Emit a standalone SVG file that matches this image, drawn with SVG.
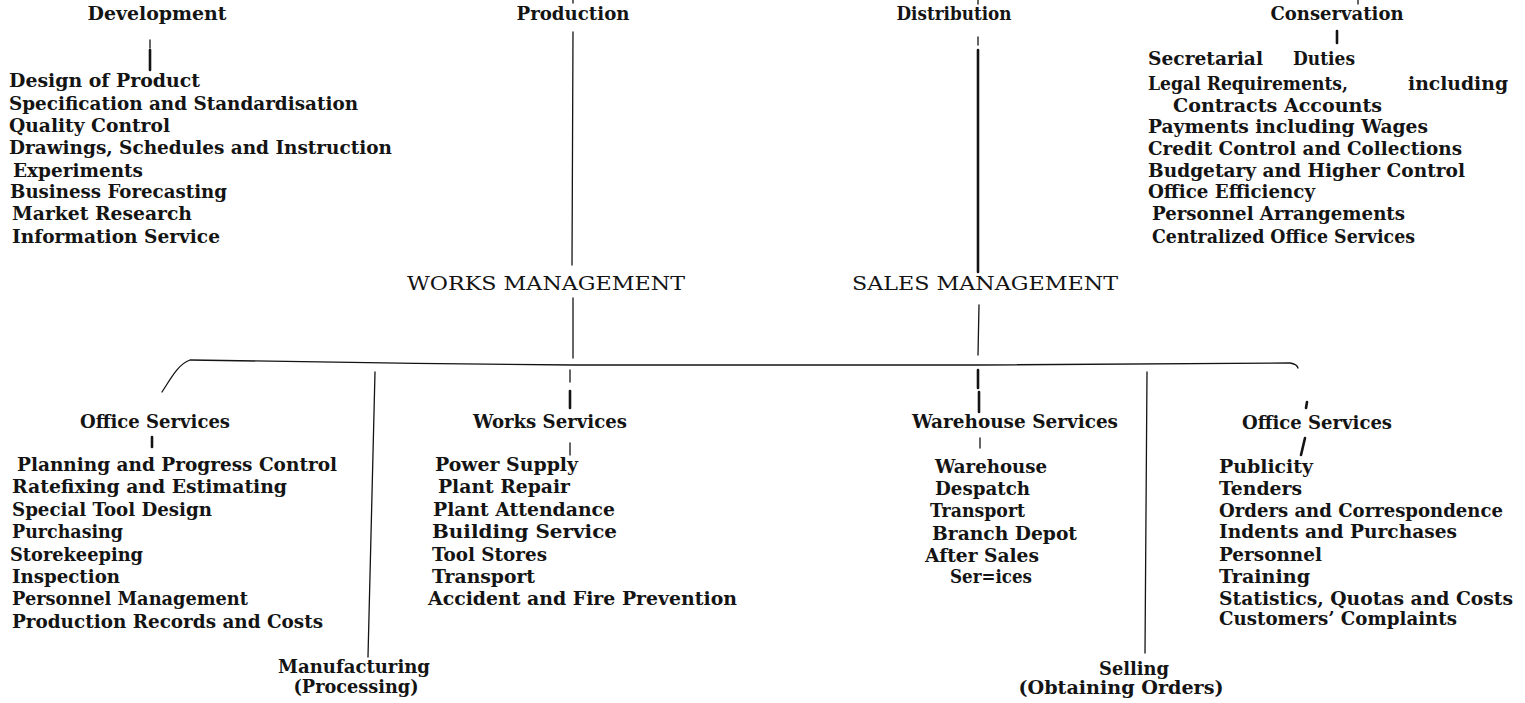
<svg xmlns="http://www.w3.org/2000/svg" width="1525" height="703" viewBox="0 0 1525 703">
<style>
.t{font-family:"DejaVu Serif","Liberation Serif",serif;font-size:18px;font-weight:bold;fill:#141414}
.c{text-anchor:middle}
.m{font-family:"DejaVu Serif","Liberation Serif",serif;font-size:18px;font-weight:normal;fill:#141414;text-anchor:middle}
.ln{stroke:#141414;stroke-width:1.3;fill:none;stroke-linecap:round}
.thick{stroke-width:2.6}
</style>
<rect width="1525" height="703" fill="#ffffff"/>
<g id="connectors">
<line class="ln" x1="573" y1="0" x2="573" y2="3"/>
<line class="ln" x1="978" y1="0" x2="978" y2="4"/>
<line class="ln" x1="1358" y1="0" x2="1358" y2="4"/>
<line class="ln" x1="150" y1="40" x2="150" y2="48"/>
<line class="ln thick" x1="150" y1="50" x2="150" y2="70"/>
<line class="ln" x1="573" y1="32" x2="572" y2="265"/>
<line class="ln" x1="978" y1="37" x2="978" y2="45"/>
<line class="ln thick" x1="978" y1="50" x2="978" y2="272"/>
<line class="ln thick" x1="1337" y1="31" x2="1337" y2="43"/>
<line class="ln" x1="573" y1="298" x2="573" y2="358"/>
<line class="ln" x1="979" y1="305" x2="978" y2="355"/>
<path class="ln" d="M162,392 C170,380 178,364 190,360 C300,362 450,364 573,365 L978,365 C1100,365 1200,364 1290,363 Q1297,364 1298,368"/>
<line class="ln" x1="375" y1="372" x2="368" y2="657"/>
<line class="ln" x1="1147" y1="372" x2="1145" y2="653"/>
<line class="ln" x1="570" y1="370" x2="570" y2="382"/>
<line class="ln thick" x1="570" y1="391" x2="570" y2="408"/>
<line class="ln" x1="570" y1="443" x2="570" y2="455"/>
<line class="ln thick" x1="978" y1="370" x2="978" y2="388"/>
<line class="ln thick" x1="979" y1="392" x2="979" y2="412"/>
<line class="ln" x1="980" y1="438" x2="980" y2="448"/>
<line class="ln thick" x1="152" y1="437" x2="152" y2="447"/>
<line class="ln thick" x1="1307" y1="402" x2="1306" y2="408"/>
<line class="ln thick" x1="1305" y1="438" x2="1301" y2="455"/>
</g>
<g id="development">
<text class="t c" x="157" y="20" textLength="139" lengthAdjust="spacingAndGlyphs">Development</text>
<text class="t" x="9" y="87" textLength="191" lengthAdjust="spacingAndGlyphs">Design of Product</text>
<text class="t" x="9" y="110" textLength="349" lengthAdjust="spacingAndGlyphs">Specification and Standardisation</text>
<text class="t" x="9" y="132" textLength="161" lengthAdjust="spacingAndGlyphs">Quality Control</text>
<text class="t" x="9" y="154" textLength="383" lengthAdjust="spacingAndGlyphs">Drawings, Schedules and Instruction</text>
<text class="t" x="13" y="177" textLength="130" lengthAdjust="spacingAndGlyphs">Experiments</text>
<text class="t" x="10" y="198" textLength="217" lengthAdjust="spacingAndGlyphs">Business Forecasting</text>
<text class="t" x="12" y="220" textLength="180" lengthAdjust="spacingAndGlyphs">Market Research</text>
<text class="t" x="12" y="243" textLength="208" lengthAdjust="spacingAndGlyphs">Information Service</text>
</g>
<g id="production">
<text class="t c" x="573" y="20" textLength="113" lengthAdjust="spacingAndGlyphs">Production</text>
</g>
<g id="distribution">
<text class="t c" x="954" y="20" textLength="115" lengthAdjust="spacingAndGlyphs">Distribution</text>
</g>
<g id="conservation">
<text class="t c" x="1337" y="20" textLength="133" lengthAdjust="spacingAndGlyphs">Conservation</text>
<text class="t" x="1148" y="65" textLength="115" lengthAdjust="spacingAndGlyphs">Secretarial</text>
<text class="t" x="1293" y="65" textLength="62" lengthAdjust="spacingAndGlyphs">Duties</text>
<text class="t" x="1148" y="90" textLength="200" lengthAdjust="spacingAndGlyphs">Legal Requirements,</text>
<text class="t" x="1408" y="90" textLength="100" lengthAdjust="spacingAndGlyphs">including</text>
<text class="t" x="1173" y="112" textLength="209" lengthAdjust="spacingAndGlyphs">Contracts  Accounts</text>
<text class="t" x="1148" y="133" textLength="280" lengthAdjust="spacingAndGlyphs">Payments including Wages</text>
<text class="t" x="1148" y="155" textLength="314" lengthAdjust="spacingAndGlyphs">Credit Control and Collections</text>
<text class="t" x="1148" y="177" textLength="317" lengthAdjust="spacingAndGlyphs">Budgetary and Higher Control</text>
<text class="t" x="1148" y="198" textLength="167" lengthAdjust="spacingAndGlyphs">Office Efficiency</text>
<text class="t" x="1152" y="220" textLength="253" lengthAdjust="spacingAndGlyphs">Personnel Arrangements</text>
<text class="t" x="1152" y="243" textLength="263" lengthAdjust="spacingAndGlyphs">Centralized Office Services</text>
</g>
<g id="works-management">
<text class="m" x="546" y="290" textLength="278" lengthAdjust="spacingAndGlyphs">WORKS MANAGEMENT</text>
</g>
<g id="sales-management">
<text class="m" x="985" y="290" textLength="266" lengthAdjust="spacingAndGlyphs">SALES MANAGEMENT</text>
</g>
<g id="office-services-works">
<text class="t c" x="155" y="428" textLength="150" lengthAdjust="spacingAndGlyphs">Office Services</text>
<text class="t" x="17" y="471" textLength="320" lengthAdjust="spacingAndGlyphs">Planning and Progress Control</text>
<text class="t" x="12" y="493" textLength="275" lengthAdjust="spacingAndGlyphs">Ratefixing and Estimating</text>
<text class="t" x="12" y="516" textLength="200" lengthAdjust="spacingAndGlyphs">Special Tool Design</text>
<text class="t" x="12" y="538" textLength="111" lengthAdjust="spacingAndGlyphs">Purchasing</text>
<text class="t" x="10" y="561" textLength="133" lengthAdjust="spacingAndGlyphs">Storekeeping</text>
<text class="t" x="12" y="583" textLength="108" lengthAdjust="spacingAndGlyphs">Inspection</text>
<text class="t" x="12" y="605" textLength="236" lengthAdjust="spacingAndGlyphs">Personnel Management</text>
<text class="t" x="12" y="628" textLength="311" lengthAdjust="spacingAndGlyphs">Production Records and Costs</text>
</g>
<g id="manufacturing">
<text class="t c" x="354" y="673" textLength="152" lengthAdjust="spacingAndGlyphs">Manufacturing</text>
<text class="t c" x="356" y="693" textLength="125" lengthAdjust="spacingAndGlyphs">(Processing)</text>
</g>
<g id="works-services">
<text class="t c" x="550" y="428" textLength="154" lengthAdjust="spacingAndGlyphs">Works Services</text>
<text class="t" x="435" y="471" textLength="143" lengthAdjust="spacingAndGlyphs">Power Supply</text>
<text class="t" x="438" y="493" textLength="132" lengthAdjust="spacingAndGlyphs">Plant Repair</text>
<text class="t" x="433" y="516" textLength="182" lengthAdjust="spacingAndGlyphs">Plant Attendance</text>
<text class="t" x="432" y="538" textLength="185" lengthAdjust="spacingAndGlyphs">Building  Service</text>
<text class="t" x="432" y="561" textLength="115" lengthAdjust="spacingAndGlyphs">Tool Stores</text>
<text class="t" x="432" y="583" textLength="103" lengthAdjust="spacingAndGlyphs">Transport</text>
<text class="t" x="428" y="605" textLength="309" lengthAdjust="spacingAndGlyphs">Accident and Fire Prevention</text>
</g>
<g id="warehouse-services">
<text class="t c" x="1015" y="428" textLength="206" lengthAdjust="spacingAndGlyphs">Warehouse Services</text>
<text class="t" x="935" y="473" textLength="112" lengthAdjust="spacingAndGlyphs">Warehouse</text>
<text class="t" x="935" y="495" textLength="95" lengthAdjust="spacingAndGlyphs">Despatch</text>
<text class="t" x="930" y="517" textLength="95" lengthAdjust="spacingAndGlyphs">Transport</text>
<text class="t" x="932" y="540" textLength="145" lengthAdjust="spacingAndGlyphs">Branch Depot</text>
<text class="t" x="925" y="562" textLength="114" lengthAdjust="spacingAndGlyphs">After Sales</text>
<text class="t" x="950" y="583" textLength="82" lengthAdjust="spacingAndGlyphs">Ser=ices</text>
</g>
<g id="selling">
<text class="t c" x="1134" y="675" textLength="70" lengthAdjust="spacingAndGlyphs">Selling</text>
<text class="t c" x="1121" y="694" textLength="205" lengthAdjust="spacingAndGlyphs">(Obtaining Orders)</text>
</g>
<g id="office-services-sales">
<text class="t c" x="1317" y="429" textLength="150" lengthAdjust="spacingAndGlyphs">Office Services</text>
<text class="t" x="1219" y="473" textLength="94" lengthAdjust="spacingAndGlyphs">Publicity</text>
<text class="t" x="1219" y="495" textLength="83" lengthAdjust="spacingAndGlyphs">Tenders</text>
<text class="t" x="1219" y="517" textLength="284" lengthAdjust="spacingAndGlyphs">Orders and Correspondence</text>
<text class="t" x="1219" y="538" textLength="238" lengthAdjust="spacingAndGlyphs">Indents and Purchases</text>
<text class="t" x="1219" y="561" textLength="103" lengthAdjust="spacingAndGlyphs">Personnel</text>
<text class="t" x="1219" y="583" textLength="91" lengthAdjust="spacingAndGlyphs">Training</text>
<text class="t" x="1219" y="605" textLength="294" lengthAdjust="spacingAndGlyphs">Statistics, Quotas and Costs</text>
<text class="t" x="1219" y="625" textLength="238" lengthAdjust="spacingAndGlyphs">Customers’ Complaints</text>
</g>
</svg>
